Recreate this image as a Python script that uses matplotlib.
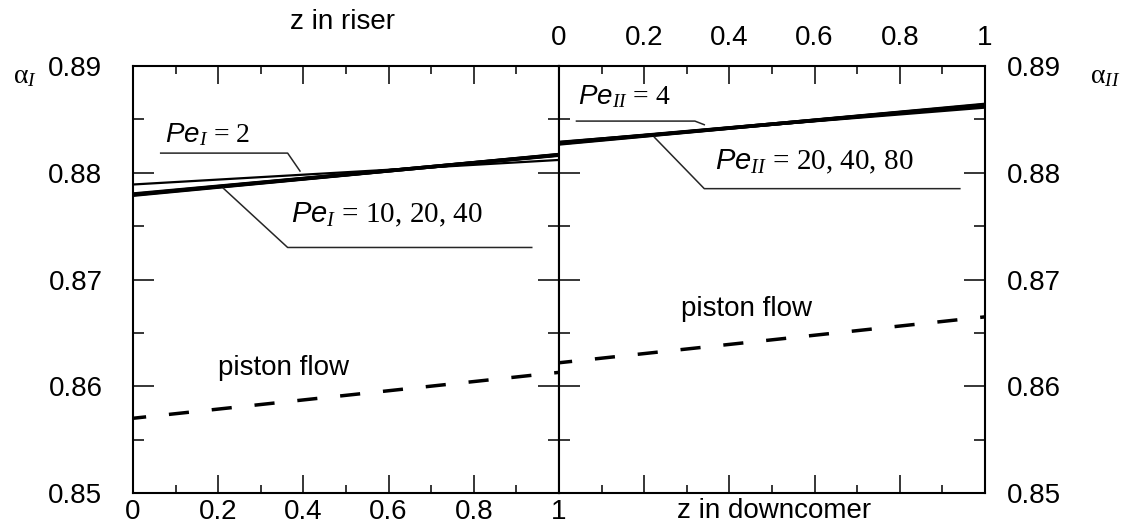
import matplotlib.pyplot as plt
from matplotlib.ticker import MultipleLocator

plt.rcParams['font.family'] = 'Liberation Sans'
plt.rcParams['mathtext.fontset'] = 'custom'
plt.rcParams['mathtext.rm'] = 'Liberation Serif'
plt.rcParams['mathtext.it'] = 'Liberation Serif:italic'
plt.rcParams['mathtext.sf'] = 'Liberation Sans:italic'

# axial position (both panels)
z = [0.0, 1.0]

# riser, alpha_I
riser_pe2 = [0.8789, 0.8812]
riser_pe10 = [0.87800, 0.88165]
riser_pe20 = [0.87795, 0.88168]
riser_pe40 = [0.87790, 0.88170]
riser_piston = [0.8570, 0.8613]

# downcomer, alpha_II
down_pe4 = [0.8829, 0.8861]
down_pe20 = [0.88280, 0.88630]
down_pe40 = [0.88275, 0.88635]
down_pe80 = [0.88270, 0.88640]
down_piston = [0.8622, 0.8665]

x_ticks = [0, 0.2, 0.4, 0.6, 0.8, 1]
x_labels = ['0', '0.2', '0.4', '0.6', '0.8', '1']
y_ticks = [0.85, 0.86, 0.87, 0.88, 0.89]
y_labels = ['0.85', '0.86', '0.87', '0.88', '0.89']

fig = plt.figure(figsize=(11.25, 5.28), dpi=100)
W, H = 1125, 528
ax1 = fig.add_axes([133 / W, 35 / H, 426 / W, 427 / H])
ax2 = fig.add_axes([559 / W, 35 / H, 426 / W, 427 / H])

dash = (2.0, (5.8, 6.6))

# riser curves
ax1.plot(z, riser_pe2, color='black', lw=1.6)
for vals in (riser_pe10, riser_pe20, riser_pe40):
    ax1.plot(z, vals, color='black', lw=2.6)
ax1.plot(z, riser_piston, color='black', lw=2.5, linestyle=dash)

# downcomer curves
ax2.plot(z, down_pe4, color='black', lw=1.6)
for vals in (down_pe20, down_pe40, down_pe80):
    ax2.plot(z, vals, color='black', lw=2.6)
ax2.plot(z, down_piston, color='black', lw=2.5, linestyle=dash)

# leader lines and labels
lead = dict(color='0.15', lw=1.1)
ax1.plot([0.065, 0.363, 0.392], [0.88184, 0.88184, 0.88016], **lead)
ax1.plot([0.212, 0.363, 0.936], [0.87855, 0.8730, 0.8730], **lead)
ax2.plot([0.041, 0.319, 0.341], [0.88484, 0.88484, 0.8845], **lead)
ax2.plot([0.224, 0.341, 0.941], [0.88332, 0.87851, 0.87851], **lead)

ax1.text(0.075, 0.8836, r'$\mathsf{Pe}_{\mathit{I}}$ = 2', family='Liberation Serif',
         fontsize=20, va='center')
ax1.text(0.372, 0.8761, r'$\mathsf{Pe}_{\mathit{I}}$ = 10, 20, 40', family='Liberation Serif',
         fontsize=21, va='center')
ax2.text(0.045, 0.8871, r'$\mathsf{Pe}_{\mathit{II}}$ = 4', family='Liberation Serif',
         fontsize=20, va='center')
ax2.text(0.367, 0.8810, r'$\mathsf{Pe}_{\mathit{II}}$ = 20, 40, 80', family='Liberation Serif',
         fontsize=21, va='center')

ax1.text(0.2, 0.8617, 'piston flow', fontsize=20, va='center')
ax2.text(0.287, 0.8672, 'piston flow', fontsize=20, va='center')

for ax in (ax1, ax2):
    ax.set_xlim(0, 1)
    ax.set_ylim(0.85, 0.89)
    ax.set_xticks(x_ticks)
    ax.set_xticklabels(x_labels)
    ax.set_yticks(y_ticks)
    ax.set_yticklabels(y_labels)
    ax.xaxis.set_minor_locator(MultipleLocator(0.1))
    ax.yaxis.set_minor_locator(MultipleLocator(0.005))
    ax.tick_params(which='both', direction='in', top=True, bottom=True,
                   left=True, right=True, width=1.1, labelsize=20)
    ax.tick_params(axis='y', which='major', length=15)
    ax.tick_params(axis='y', which='minor', length=8)
    ax.tick_params(axis='x', which='major', length=13)
    ax.tick_params(axis='x', which='minor', length=6)
    for s in ax.spines.values():
        s.set_linewidth(1.5)

ax1.tick_params(axis='y', pad=22, labelleft=True, labelright=False)
ax1.tick_params(axis='x', pad=4, labelbottom=True, labeltop=False)
ax2.tick_params(axis='y', pad=16, labelleft=False, labelright=True)
ax2.tick_params(axis='x', pad=11, labelbottom=False, labeltop=True)

fig.text(342 / W, 1 - 22 / H, 'z in riser', fontsize=20, ha='center', va='center')
fig.text(774 / W, 1 - 511 / H, 'z in downcomer', fontsize=20, ha='center', va='center')
fig.text(25 / W, 1 - 76 / H, r'$\mathrm{\alpha}_{\mathit{I}}$', fontsize=20, ha='center', va='center')
fig.text(1105 / W, 1 - 76 / H, r'$\mathrm{\alpha}_{\mathit{II}}$', fontsize=20, ha='center', va='center')

fig.savefig('out.png', dpi=100)
